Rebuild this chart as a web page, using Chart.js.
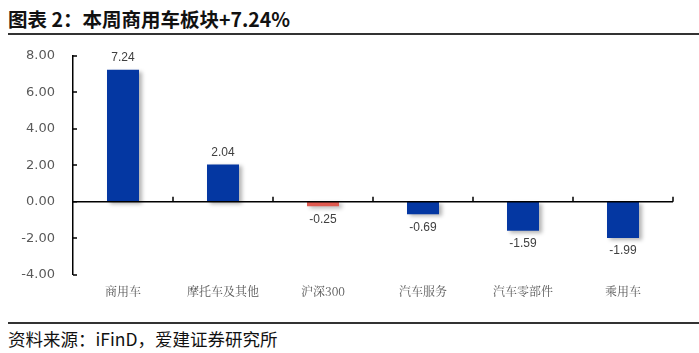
<!DOCTYPE html>
<html>
<head>
<meta charset="utf-8">
<script src="https://cdn.jsdelivr.net/npm/chart.js@4/dist/chart.umd.min.js"></script>
<style>
    body{margin:0;background:#fff;width:699px;height:353px;position:relative;overflow:hidden;font-family:"Noto Sans CJK SC","Noto Sans",sans-serif;}
    #title{position:absolute;left:8px;top:4px;font-size:19.5px;font-weight:bold;color:#111;white-space:pre;}
    #line1{position:absolute;left:8px;right:0;top:33px;height:2px;background:#333;}
    #line2{position:absolute;left:8px;right:0;top:322px;height:2px;background:#333;}
    #source{position:absolute;left:8px;top:326px;font-size:17.5px;color:#111;}
    #wrap{position:absolute;left:0;top:30px;width:699px;height:279px;}
</style>
</head>
<body>
<div id="title">图表 2：本周商用车板块+7.24%</div>
<div id="line1"></div>
<div id="wrap"><canvas id="bar_chart" width="699" height="279"></canvas></div>
<div id="line2"></div>
<div id="source">资料来源：iFinD，爱建证券研究所</div>
<script>
// 数据
let categories = ["商用车", "摩托车及其他", "沪深300", "汽车服务", "汽车零部件", "乘用车"];
let weekly_change = [7.24, 2.04, -0.25, -0.69, -1.59, -1.99];
let bar_colors = ["#0437A2", "#0437A2", "#E05A50", "#0437A2", "#0437A2", "#0437A2"];
let y_min = -4;
let y_max = 8;
let y_step = 2;

// 零轴线 + 刻度 + 数值标签
let axis_plugin = {
    id:"axis_plugin",
    beforeDatasetsDraw(chart){
        let c = chart.ctx;
        c.save();
        c.shadowColor = "rgba(0,0,0,0.3)";
        c.shadowBlur = 4;
        c.shadowOffsetX = 3;
        c.shadowOffsetY = 2;
    },
    afterDatasetsDraw(chart){
        let c = chart.ctx;
        c.restore();
        let area = chart.chartArea;
        let ys = chart.scales.y;
        let y0 = ys.getPixelForValue(0);
        c.save();
        c.strokeStyle = "#000";
        c.lineWidth = 1.5;
        c.beginPath();
        c.moveTo(area.left, y0);
        c.lineTo(area.right, y0);
        // 分类刻度
        let w = (area.right - area.left) / categories.length;
        for (let i = 1; i <= categories.length; i++) {
            let px = Math.round(area.left + i * w);
            c.moveTo(px, y0);
            c.lineTo(px, y0 - 5);
        }
        // y轴刻度
        for (let v = y_min; v <= y_max; v += y_step) {
            let py = Math.round(ys.getPixelForValue(v));
            c.moveTo(area.left, py);
            c.lineTo(area.left + 4, py);
        }
        c.stroke();

        c.fillStyle = "#404040";
        c.font = "12px 'Liberation Sans', Arial, sans-serif";
        c.textAlign = "center";
        let meta = chart.getDatasetMeta(0);
        meta.data.forEach(function(bar, i){
            let v = weekly_change[i];
            if (v >= 0) {
                c.textBaseline = "bottom";
                c.fillText(v.toFixed(2), bar.x, bar.y - 6);
            } else {
                c.textBaseline = "top";
                c.fillText(v.toFixed(2), bar.x, bar.y + 7);
            }
        });
        c.restore();
    }
};

let ctx1 = document.getElementById("bar_chart");
let bar_chart = new Chart(ctx1, {
    type:"bar",
    plugins:[axis_plugin],
    options:{
        responsive:false,
        animation:false,
        layout:{padding:{left:0, right:26, top:8, bottom:0}},
        plugins:{
            legend:{display:false},
            tooltip:{enabled:false}
        },
        scales:{
            x:{
                grid:{display:false, drawTicks:false},
                border:{display:false},
                ticks:{
                    color:"#595959",
                    font:{size:12, family:"'Noto Serif CJK SC','Noto Sans CJK SC',serif"},
                    padding:10
                }
            },
            y:{
                min:y_min,
                max:y_max,
                afterFit(scale){ scale.width = 73; },
                grid:{display:false, drawTicks:false},
                border:{display:true, color:"#000", width:1.5},
                ticks:{
                    stepSize:y_step,
                    color:"#595959",
                    font:{size:13, family:"'DejaVu Sans', sans-serif"},
                    padding:18,
                    callback:function(v){ return Number(v).toFixed(2); }
                }
            }
        }
    },
    data:{
        labels:categories,
        datasets:[
            {
                label:"本周涨跌幅",
                data:weekly_change,
                backgroundColor:bar_colors,
                barPercentage:0.32,
                categoryPercentage:1.0
            }
        ]
    }
});
</script>
</body>
</html>
